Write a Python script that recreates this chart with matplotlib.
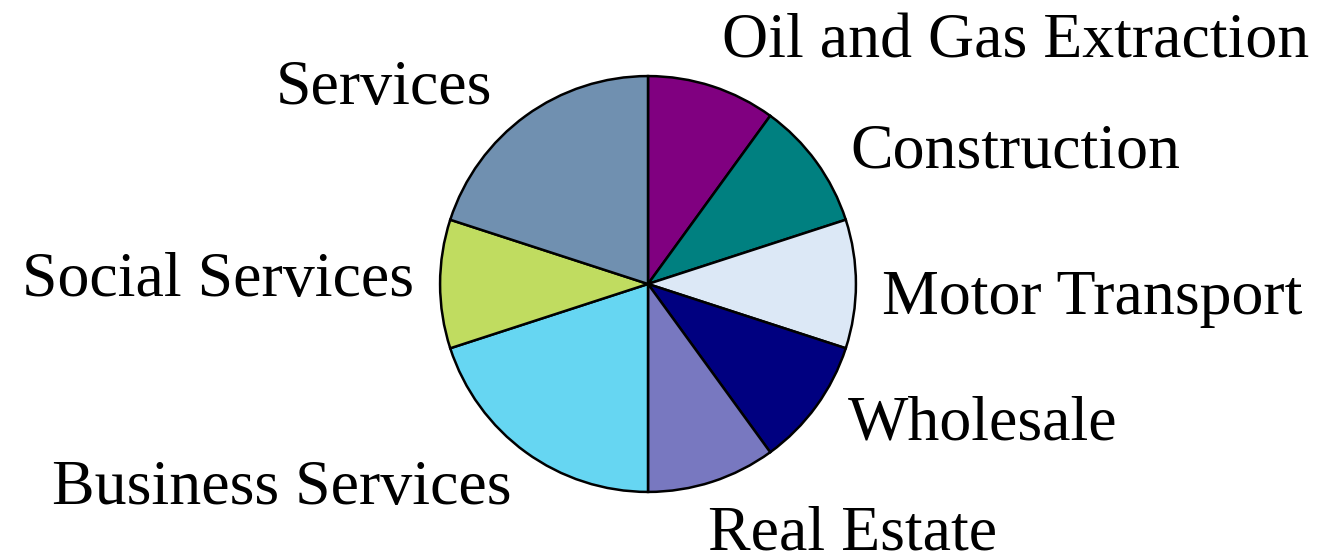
import matplotlib
matplotlib.use('Agg')
import matplotlib.pyplot as plt

labels = ['Oil and Gas Extraction', 'Construction', 'Motor Transport', 'Wholesale',
          'Real Estate', 'Business Services', 'Social Services', 'Services']
values = [1, 1, 1, 1, 1, 2, 1, 2]
colors = ['#800080', '#008080', '#dce8f6', '#000080',
          '#7878c0', '#66d6f2', '#c0dc60', '#7090b0']

# label anchor positions in pixels (left x, center y) from the top-left corner
label_pos = [(722, 42), (850, 152), (882, 299), (848, 424),
             (708, 534), (52, 489), (22, 281), (276, 89)]

W, H = 1320, 557
fig = plt.figure(figsize=(W / 100, H / 100), dpi=100)
cx, cy, r = 648, 284, 210
ax = fig.add_axes([(cx - r) / W, (H - cy - r) / H, 2 * r / W, 2 * r / H])
ax.pie(values, colors=colors, startangle=90, counterclock=False,
       wedgeprops=dict(edgecolor='black', linewidth=1.8), radius=1)
ax.set_xlim(-1.01, 1.01)
ax.set_ylim(-1.01, 1.01)
ax.set_aspect('equal')
ax.axis('off')

for lab, (x, y) in zip(labels, label_pos):
    fig.text(x / W, 1 - y / H, lab, fontsize=46, family='Liberation Serif',
             ha='left', va='center')

fig.savefig('out.png', dpi=100)
